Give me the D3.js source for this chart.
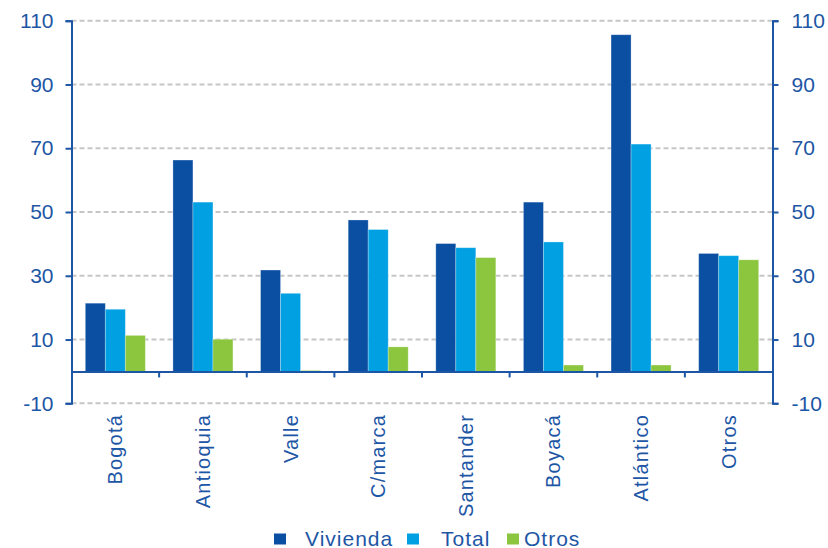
<!DOCTYPE html>
<html>
<head>
<meta charset="utf-8">
<script src="https://cdn.jsdelivr.net/npm/d3@7"></script>
<style>
  html, body { margin: 0; padding: 0; background: #fff; }
  svg { display: block; font-family: "Liberation Sans", Arial, sans-serif; }
</style>
</head>
<body>
<svg id="chart" width="828" height="548"></svg>
<script>
const categories = ["Bogotá", "Antioquia", "Valle", "C/marca", "Santander", "Boyacá", "Atlántico", "Otros"];
const seriesNames = ["Vivienda", "Total", "Otros"];
const vivienda = [21.4, 66.3, 31.8, 47.5, 40.1, 53.1, 105.6, 37.0];
const total    = [19.5, 53.1, 24.5, 44.5, 38.8, 40.6, 71.3, 36.3];
const otros    = [11.3, 10.1, 0.3, 7.7, 35.7, 2.0, 2.0, 35.0];
const tickValues = [-10, 10, 30, 50, 70, 90, 110];
const tickLabels = ["-10", "10", "30", "50", "70", "90", "110"];
const colors = ["#0b4fa2", "#00a0e3", "#8cc63f"];

const axisColor = "#1d56a5";
const textColor = "#1d56a5";

const svg = d3.select("#chart");
const plotLeft = 71.5, plotRight = 772.5, plotTop = 20.7, plotBottom = 403.3;

const x = d3.scaleBand().domain(categories).range([plotLeft, plotRight]).paddingInner(0).paddingOuter(0);
const x1 = d3.scaleBand().domain(seriesNames).range([0, x.bandwidth()]).paddingInner(0).paddingOuter(0.69);
const y = d3.scaleLinear().domain([-10, 110]).range([plotBottom, plotTop]);

const seriesValues = [vivienda, total, otros];

// gridlines
svg.append("g").selectAll("line").data(tickValues).join("line")
  .attr("x1", plotLeft).attr("x2", plotRight)
  .attr("y1", d => y(d)).attr("y2", d => y(d))
  .attr("stroke", "#c6c6c6").attr("stroke-width", 2)
  .attr("stroke-dasharray", "5,3");

// bars
const groups = svg.append("g").selectAll("g").data(categories).join("g")
  .attr("transform", d => `translate(${x(d)},0)`);
groups.selectAll("rect")
  .data((c, i) => seriesNames.map((s, j) => ({ s, v: seriesValues[j][i], j })))
  .join("rect")
  .attr("x", d => x1(d.s))
  .attr("width", x1.bandwidth())
  .attr("y", d => y(Math.max(0, d.v)))
  .attr("height", d => Math.abs(y(d.v) - y(0)))
  .attr("fill", d => colors[d.j])
  .attr("stroke", "rgba(255,255,255,0.35)")
  .attr("stroke-width", 0.8);

const fmt = d => tickLabels[tickValues.indexOf(d)];

// left axis
const leftAxis = d3.axisLeft(y).tickValues(tickValues).tickFormat(fmt).tickSize(6).tickPadding(12);
const gl = svg.append("g").attr("transform", `translate(${plotLeft},0)`).call(leftAxis);
// right axis
const rightAxis = d3.axisRight(y).tickValues(tickValues).tickFormat(fmt).tickSize(6).tickPadding(13);
const gr = svg.append("g").attr("transform", `translate(${plotRight},0)`).call(rightAxis);

[gl, gr].forEach(g => {
  g.select(".domain").attr("stroke", axisColor).attr("stroke-width", 2);
  g.selectAll(".tick line").attr("stroke", axisColor).attr("stroke-width", 2);
  g.selectAll(".tick text").attr("fill", textColor)
    .style("font-size", "21px").style("font-family", "'Liberation Sans', Arial, sans-serif");
});

// zero axis with category ticks
const gx = svg.append("g").attr("transform", `translate(0,${y(0)})`)
  .call(d3.axisBottom(x).tickSize(0).tickFormat(""));
gx.select(".domain").attr("stroke", axisColor).attr("stroke-width", 2);
gx.selectAll(".tick").remove();
svg.append("g").selectAll("line").data(categories.slice(1)).join("line")
  .attr("x1", d => x(d)).attr("x2", d => x(d))
  .attr("y1", y(0)).attr("y2", y(0) + 6)
  .attr("stroke", axisColor).attr("stroke-width", 2);

// category labels
svg.append("g").selectAll("text").data(categories).join("text")
  .attr("transform", d => `translate(${x(d) + x.bandwidth() / 2 + 7},414) rotate(-90)`)
  .attr("text-anchor", "end")
  .attr("fill", textColor)
  .style("font-size", "20px")
  .style("letter-spacing", "1.2px")
  .text(d => d);

// legend
const legendSquareX = [274, 407, 507];
const legendTextX = [305, 441, 524];
const lg = svg.append("g");
seriesNames.forEach((s, i) => {
  lg.append("rect").attr("x", legendSquareX[i]).attr("y", 533.5)
    .attr("width", 12).attr("height", 11).attr("fill", colors[i]);
  lg.append("text").attr("x", legendTextX[i]).attr("y", 545.5)
    .attr("fill", textColor).style("font-size", "21px").style("letter-spacing", "1px")
    .text(s);
});
</script>
</body>
</html>
